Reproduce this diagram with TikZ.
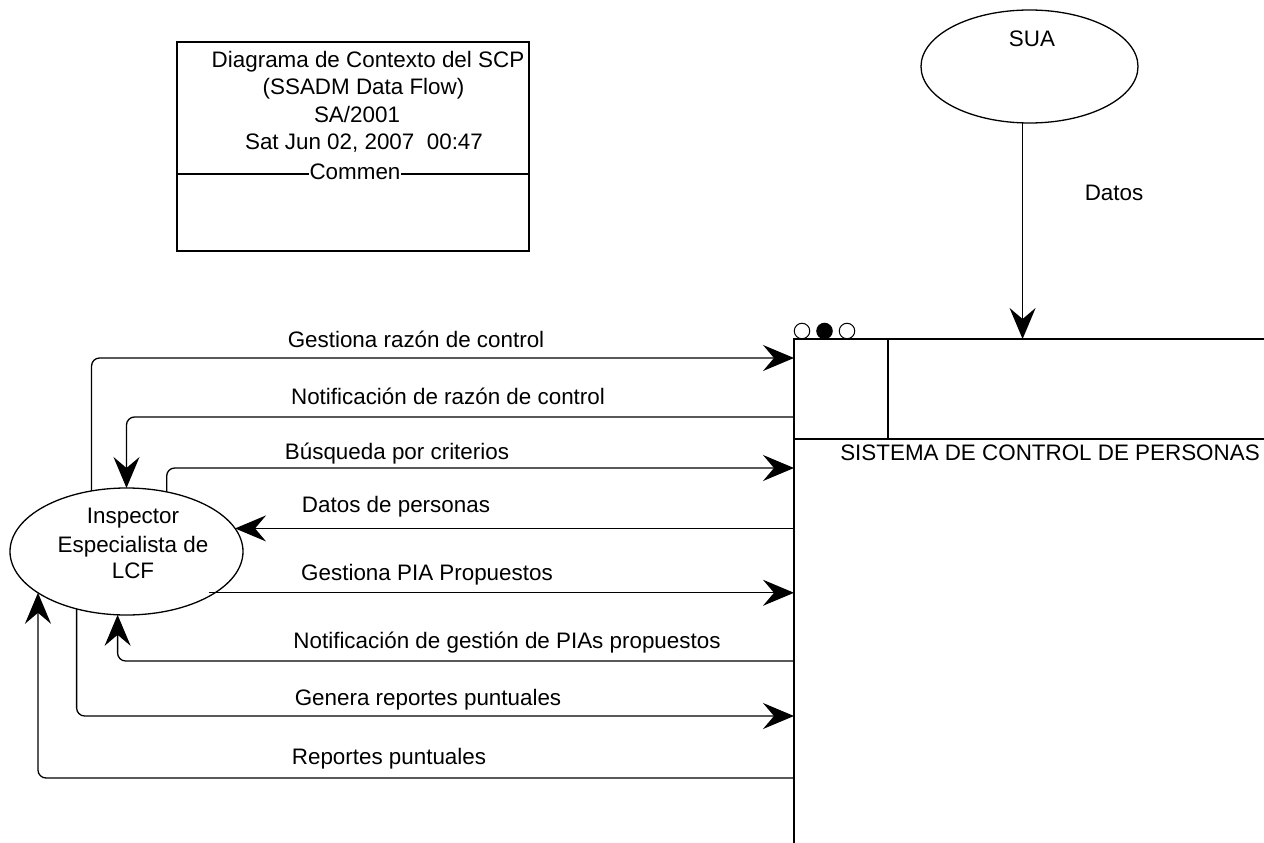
\documentclass[tikz,border=0pt]{standalone}
\usepackage{fontspec}
\setmainfont{Liberation Sans}
\usetikzlibrary{arrows.meta,shapes.geometric}

\begin{document}
\begin{tikzpicture}[x=1pt,y=-1pt,
  line width=1.3pt,
  every node/.style={inner sep=0pt, outer sep=0pt, font=\fontsize{22.4}{28}\selectfont},
  txt/.style={anchor=base},
  flow/.style={draw, rounded corners=8pt, -{Stealth[length=31pt,width=26pt,inset=11pt]}},
  extent/.style={ellipse, draw, line width=1.3pt},
  dot/.style={circle, draw, line width=1pt, minimum size=15.5pt}
]
\useasboundingbox (0,0) rectangle (1264,843);

% --- title / comment block
\node[draw, anchor=north west, minimum width=352pt, minimum height=209pt] (title) at (177,42) {};
\node[txt] (t1) at (368,67) {Diagrama de Contexto del SCP};
\node[txt] (t2) at (363.5,94) {(SSADM Data Flow)};
\node[txt] (t3) at (357,122) {SA/2001};
\node[txt] (t4) at (364,149) {Sat Jun 02, 2007\ \ 00:47};
\coordinate (cm) at (355,174);
\draw (title.west |- cm) -- (title.east |- cm);
\node[txt, fill=white, inner xsep=1pt] (cmt) at (355,179) {Commen};

% --- external entities
\node[extent, minimum width=233pt, minimum height=127pt] (insp) at (126.5,551.5) {};
\node[txt] (i1) at (133,523) {Inspector};
\node[txt] (i2) at (133,552) {Especialista de};
\node[txt] (i3) at (133,578) {LCF};

\node[extent, minimum width=217pt, minimum height=113pt] (sua) at (1029.5,66.5) {};
\node[txt] (s1) at (1032,47) {SUA};

% --- process box
\node[anchor=north west, minimum width=470pt, minimum height=504pt] (proc) at (794,339) {};
\coordinate (div) at (888,439);
\draw (proc.south west) -- (proc.north west) -- (proc.north east);
\draw (div) -- (div |- proc.north);
\draw (proc.west |- div) -- (proc.east |- div);
\node[txt] (pname) at (1050,460) {SISTEMA DE CONTROL DE PERSONAS};
\node[dot] (d1) at (802,331) {};
\node[dot, fill=black] (d2) at (824.5,331) {};
\node[dot] (d3) at (847,331) {};

% --- data flows
\draw[flow] (sua.263.4) -- (sua.263.4 |- proc.north);
\node[txt] (l0) at (1114,200) {Datos};

\draw[flow] (insp.120.4) |- (proc.west |- 0,358);
\node[txt] (l1) at (416,347) {Gestiona razón de control};

\draw[flow] (proc.west |- 0,417) -| (insp.north);
\node[txt] (l2) at (448,404) {Notificación de razón de control};

\draw[flow] (insp.56.5) |- (proc.west |- 0,468);
\node[txt] (l3) at (397,459) {Búsqueda por criterios};

\draw[flow] (proc.west |- insp.12.8) -- (insp.12.8);
\node[txt] (l4) at (396,512) {Datos de personas};

\draw[flow, shorten <=-6pt] (insp.-25.2) -- (proc.west |- insp.-25.2);
\node[txt] (l5) at (427,580) {Gestiona PIA Propuestos};

\draw[flow] (proc.west |- 0,661) -| (insp.262.4);
\node[txt] (l6) at (507,648) {Notificación de gestión de PIAs propuestos};

\draw[flow] (insp.229.3) |- (proc.west |- 0,716);
\node[txt] (l7) at (428,705) {Genera reportes puntuales};

\draw[flow] (proc.west |- 0,778) -| (insp.205);
\node[txt] (l8) at (389,764) {Reportes puntuales};
\end{tikzpicture}
\end{document}
